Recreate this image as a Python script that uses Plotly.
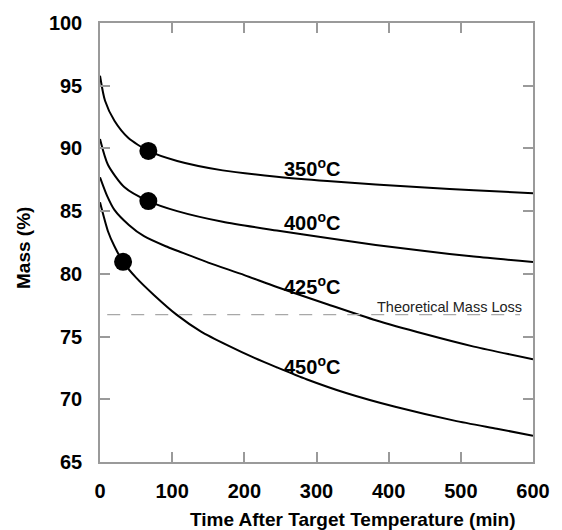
import plotly.graph_objects as go

# ---- data ----
t350 = [0, 7, 20, 39, 67, 107, 170, 245, 315, 382, 450, 518, 600]
m350 = [95.8, 93.8, 92.2, 90.85, 89.8, 89.0, 88.25, 87.75, 87.4, 87.12, 86.88, 86.66, 86.43]

t400 = [0, 11, 34, 67, 107, 170, 245, 315, 382, 450, 518, 600]
m400 = [90.75, 88.7, 86.9, 85.8, 85.0, 84.15, 83.45, 82.85, 82.3, 81.82, 81.38, 80.95]

t425 = [0, 10, 20, 40, 61, 91, 109, 150, 200, 245, 314, 382, 450, 518, 600]
m425 = [87.7, 86.2, 85.1, 83.9, 83.0, 82.2, 81.8, 80.9, 79.9, 78.95, 77.6, 76.3, 75.2, 74.2, 73.2]

t450 = [0, 11, 20, 32, 50, 75, 106, 140, 177, 214, 245, 286, 341, 409, 491, 550, 600]
m450 = [85.7, 83.4, 82.2, 80.96, 79.7, 78.3, 76.75, 75.4, 74.3, 73.3, 72.55, 71.6, 70.5, 69.4, 68.3, 67.65, 67.1]

dot_t = [67, 67, 32]
dot_m = [89.8, 85.8, 80.96]

theo_t = [10, 582]
theo_m = [76.75, 76.75]
theo_label = "Theoretical Mass Loss"

labels = ["350<sup>o</sup>C", "400<sup>o</sup>C", "425<sup>o</sup>C", "450<sup>o</sup>C"]
label_t = [252, 252, 252, 252]
label_m = [88.5, 84.15, 79.05, 72.7]

x_ticks = [0, 100, 200, 300, 400, 500, 600]
y_ticks = [65, 70, 75, 80, 85, 90, 95, 100]

x_title = "Time After Target Temperature (min)"
y_title = "Mass (%)"

FONT = "Liberation Sans, Arial, sans-serif"
AXC = "#9a9a9a"

fig = go.Figure()
for t, m in [(t350, m350), (t400, m400), (t425, m425), (t450, m450)]:
    fig.add_trace(go.Scatter(x=t, y=m, mode="lines",
                             line=dict(color="black", width=2, shape="spline", smoothing=0.7),
                             showlegend=False, hoverinfo="skip"))

fig.add_trace(go.Scatter(x=theo_t, y=theo_m, mode="lines",
                         line=dict(color="#a8a8a8", width=1.3, dash="13px,11px"),
                         showlegend=False, hoverinfo="skip"))

fig.add_trace(go.Scatter(x=dot_t, y=dot_m, mode="markers",
                         marker=dict(color="black", size=18, line=dict(width=0)),
                         showlegend=False, hoverinfo="skip"))

for txt, x, y in zip(labels, label_t, label_m):
    fig.add_annotation(x=x, y=y, text=txt, showarrow=False, xanchor="left", yanchor="middle",
                       font=dict(family=FONT, size=20, color="black", weight="bold"))

fig.add_annotation(x=588, y=76.85, text=theo_label, showarrow=False, xanchor="right", yanchor="bottom",
                   yshift=-4, font=dict(family=FONT, size=14.5, color="#222222"))

# axis titles
fig.add_annotation(xref="paper", yref="paper", x=0.584, y=-0.130, text=x_title, showarrow=False,
                   xanchor="center", yanchor="middle",
                   font=dict(family=FONT, size=19, color="black", weight="bold"))
fig.add_annotation(xref="paper", yref="paper", x=-0.175, y=0.488, text=y_title, showarrow=False,
                   textangle=-90, xanchor="center", yanchor="middle",
                   font=dict(family=FONT, size=19, color="black", weight="bold"))

axis_common = dict(showline=True, linecolor=AXC, linewidth=1.5, mirror="ticks",
                   ticks="inside", ticklen=10, tickwidth=1.5, tickcolor=AXC,
                   showgrid=False, zeroline=False,
                   tickfont=dict(family=FONT, size=20, color="black", weight="bold"))

fig.update_xaxes(range=[0, 600], tickvals=x_ticks, ticklabelstandoff=10, **axis_common)
fig.update_yaxes(range=[65, 100], tickvals=y_ticks, ticklabelstandoff=12, **axis_common)

fig.update_layout(width=562, height=530, margin=dict(l=100, r=22, t=22, b=68),
                  paper_bgcolor="white", plot_bgcolor="white")

fig.write_html("out.html")
